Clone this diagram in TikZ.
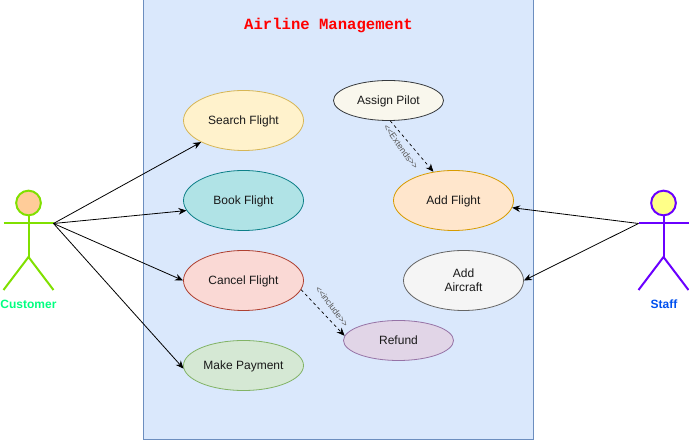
\documentclass[tikz,border=0pt]{standalone}
\usepackage{fontspec}
\setmainfont{Liberation Sans}
\setmonofont{Liberation Mono}
\usetikzlibrary{arrows.meta,shapes.geometric}
\definecolor{systemfill}{HTML}{DAE8FC}
\definecolor{systemline}{HTML}{6C8EBF}
\definecolor{customerline}{HTML}{80E000}
\definecolor{staffline}{HTML}{6A00FF}
\definecolor{searchline}{HTML}{D6B656}
\definecolor{searchfill}{HTML}{FFF2CC}
\definecolor{bookline}{HTML}{0E8088}
\definecolor{bookfill}{HTML}{B0E3E6}
\definecolor{cancelline}{HTML}{AE4132}
\definecolor{cancelfill}{HTML}{FAD9D5}
\definecolor{paymentline}{HTML}{82B366}
\definecolor{paymentfill}{HTML}{D5E8D4}
\definecolor{pilotline}{HTML}{36393D}
\definecolor{pilotfill}{HTML}{F9F7ED}
\definecolor{flightline}{HTML}{D79B00}
\definecolor{flightfill}{HTML}{FFE6CC}
\definecolor{aircraftline}{HTML}{666666}
\definecolor{aircraftfill}{HTML}{F5F5F5}
\definecolor{refundline}{HTML}{9673A6}
\definecolor{refundfill}{HTML}{E1D5E7}
\begin{document}
\begin{tikzpicture}[
    x=0.75pt, y=-0.75pt,
    system box/.style={draw=systemline, fill=systemfill, line width=0.75pt,
        minimum width=292.5pt, minimum height=330pt, inner sep=0pt},
    use case/.style 2 args={ellipse, draw=#1, fill=#2,
        line width=0.6pt, inner sep=0pt, minimum width=90pt, minimum height=45pt,
        font=\fontsize{9}{10.8}\selectfont, align=center, text=black!90,
        text height=6.5pt, text depth=1pt},
    small case/.style={minimum width=82.5pt, minimum height=30pt},
    assoc/.style={draw=black, line width=0.6pt, -{Stealth[length=6pt,width=5pt]}},
    dependency/.style={assoc, line width=0.5pt, dash pattern=on 2.25pt off 2.25pt},
    dep label/.style={font=\fontsize{6.6}{8}\selectfont, text=black!65, inner sep=0pt},
    limb/.style={line width=1.5pt},
    head/.style={circle, draw, line width=1.5pt, minimum size=18.5pt, inner sep=0pt},
    actor label/.style={font=\fontsize{9}{10.8}\selectfont\bfseries, inner sep=0pt}
]
    \path[use as bounding box] (0,0) rectangle (689,441);

    % The system boundary.
    \node[system box] (system) at (338.5,220) {};
    \node[font=\fontsize{11.7}{14}\selectfont\ttfamily\bfseries, text=red] (title)
        at (328.5,26) {Airline Management};

    % Use cases.
    \node[use case={searchline}{searchfill}] (search) at (243.5,120.5) {Search Flight};
    \node[use case={bookline}{bookfill}] (book) at (243.5,200.5) {Book Flight};
    \node[use case={cancelline}{cancelfill}] (cancel) at (243.5,280.5) {Cancel Flight};
    \node[use case={paymentline}{paymentfill}, minimum height=37.5pt] (payment) at (243.5,365.5) {Make Payment};
    \node[use case={pilotline}{pilotfill}, small case] (pilot) at (388.5,100.5) {Assign Pilot};
    \node[use case={flightline}{flightfill}] (addflight) at (453.5,200.5) {Add Flight};
    \node[use case={aircraftline}{aircraftfill}, text height=, text depth=] (aircraft) at (463.5,280.5) {Add\\Aircraft};
    \node[use case={refundline}{refundfill}, small case] (refund) at (398.5,340.5) {Refund};

    % Customer actor.
    \node[head, draw=customerline, fill={rgb,255:red,255;green,204;blue,153}] (chead) at (28.5,203) {};
    \coordinate (chand l) at (3.5,223.5);
    \coordinate (chand r) at (53.5,223.5);
    \coordinate (chip) at (28.5,257);
    \coordinate (cfoot l) at (3.5,290);
    \coordinate (cfoot r) at (53.5,290);
    \draw[limb, customerline] (chead) -- (chip);
    \draw[limb, customerline] (chand l) -- (chand r);
    \draw[limb, customerline] (cfoot l) -- (chip) -- (cfoot r);
    \node[actor label, text={rgb,255:red,0;green,255;blue,128}] (customer) at (28.5,304.5) {Customer};

    % Staff actor.
    \node[head, draw=staffline, fill={rgb,255:red,255;green,255;blue,136}] (shead) at (663.5,203) {};
    \coordinate (shand l) at (638.5,223.5);
    \coordinate (shand r) at (688.5,223.5);
    \coordinate (ship) at (663.5,257);
    \coordinate (sfoot l) at (638.5,290);
    \coordinate (sfoot r) at (688.5,290);
    \draw[limb, staffline] (shead) -- (ship);
    \draw[limb, staffline] (shand l) -- (shand r);
    \draw[limb, staffline] (sfoot l) -- (ship) -- (sfoot r);
    \node[actor label, text={rgb,255:red,0;green,80;blue,239}] (staff) at (664,304.5) {Staff};

    % Associations.
    \draw[assoc] (chand r) -- (search.207);
    \draw[assoc] (chand r) -- (book.190);
    \draw[assoc] (chand r) -- (cancel.west);
    \draw[assoc] (chand r) -- (payment.183);
    \draw[assoc] (shand l) -- (addflight.-7);
    \draw[assoc] (shand l) -- (aircraft.east);

    % Dependencies.
    \draw[dependency] (pilot.-85) -- (addflight.125);
    \draw[dependency] (cancel.-9) -- (refund.175);
    \node[dep label, rotate=-54] (extends) at (401,147) {<{}<Extends>{}>};
    \node[dep label, rotate=-53] (include) at (332,306.5) {<{}<include>{}>};
\end{tikzpicture}
\end{document}
